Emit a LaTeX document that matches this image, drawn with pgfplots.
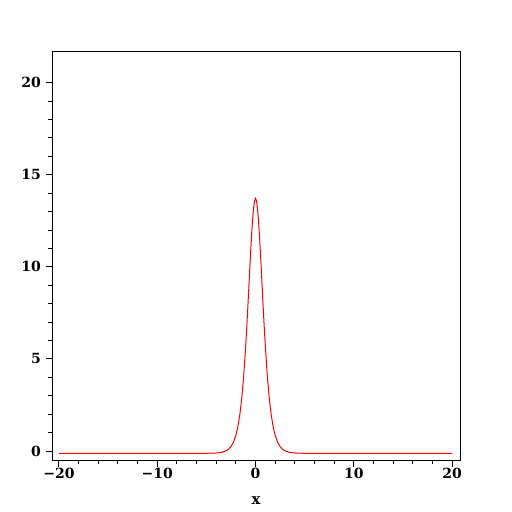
\documentclass[border=0pt]{standalone}
\usepackage{fontspec}
\setmainfont{DejaVu Serif}
\usepackage{pgfplots}
\pgfplotsset{compat=1.18}
\begin{document}
\begin{tikzpicture}[x=1pt,y=1pt]
\path[use as bounding box] (0,0) rectangle (512,512);
\begin{axis}[
  at={(52pt,52pt)}, anchor=south west,
  width=408pt, height=409pt, scale only axis,
  xmin=-20.7, xmax=20.8, ymin=-0.49, ymax=21.72,
  xtick={-20,-10,0,10,20}, ytick={0,5,10,15,20},
  xticklabels={−20,−10,0,10,20},
  minor x tick num=4, minor y tick num=4,
  xtick pos=bottom, ytick pos=left,
  tick align=outside,
  major tick length=6.5pt, minor tick length=4pt,
  every tick/.style={black, line width=0.9pt},
  axis line style={line width=0.9pt},
  /pgf/number format/assume math mode=true,
  ticklabel style={font=\bfseries\fontsize{14}{15}\selectfont},
  yticklabel style={xshift=-1pt},
  xticklabel style={anchor=center, yshift=-7pt},
  xlabel={x},
  xlabel style={font=\bfseries\fontsize{15}{16}\selectfont, at={(axis description cs:0.5,0)}, anchor=center, yshift=-41pt},
]
\addplot[red, line width=1pt] coordinates {
(-20,-0.13) (-6,-0.13) (-5,-0.127) (-4,-0.11) (-3.5,-0.08) (-3,0.007)
(-2.75,0.09) (-2.5,0.24) (-2.25,0.47) (-2,0.85) (-1.8,1.30) (-1.6,1.95)
(-1.4,2.86) (-1.2,4.09) (-1,5.69) (-0.9,6.61) (-0.8,7.61) (-0.7,8.66)
(-0.6,9.73) (-0.5,10.76) (-0.4,11.72) (-0.3,12.545) (-0.2,13.18) (-0.1,13.583)
(0,13.72)
(0.1,13.583) (0.2,13.18) (0.3,12.545) (0.4,11.72) (0.5,10.76) (0.6,9.73)
(0.7,8.66) (0.8,7.61) (0.9,6.61) (1,5.69) (1.2,4.09) (1.4,2.86) (1.6,1.95)
(1.8,1.30) (2,0.85) (2.25,0.47) (2.5,0.24) (2.75,0.09) (3,0.007) (3.5,-0.08)
(4,-0.11) (5,-0.127) (6,-0.13) (20,-0.13)
};
\end{axis}
\end{tikzpicture}
\end{document}
